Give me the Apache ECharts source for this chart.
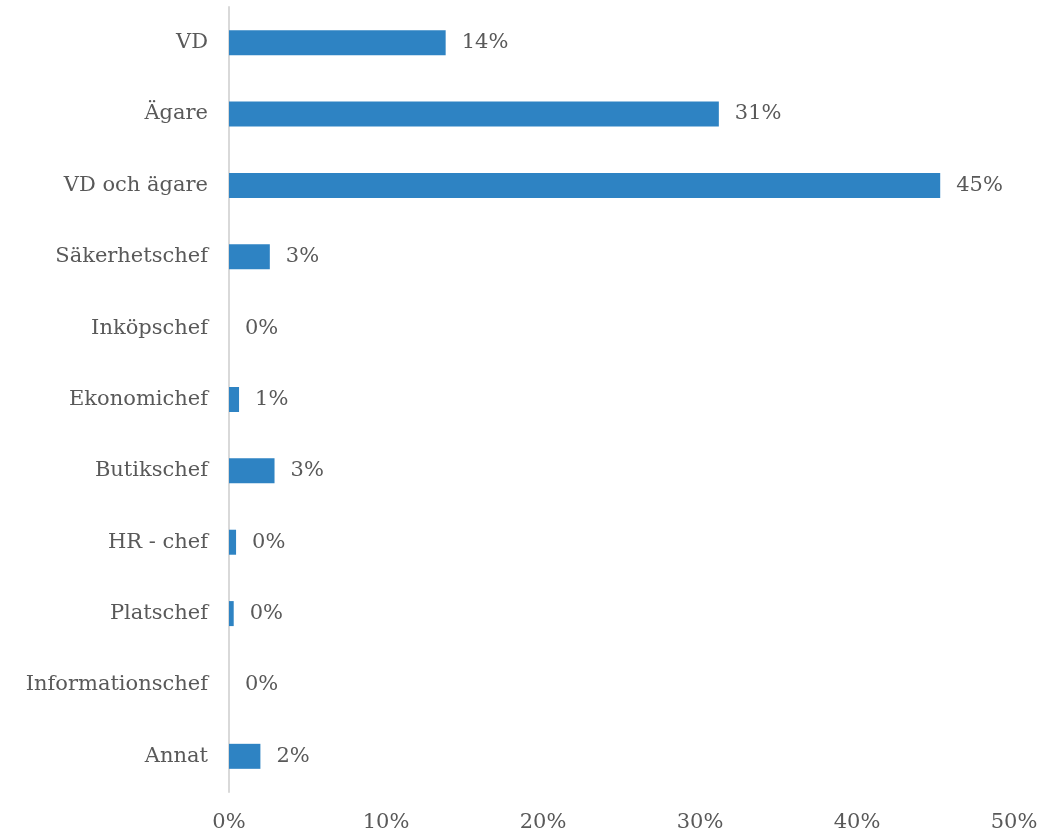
<!DOCTYPE html>
<html>
<head>
<meta charset="utf-8">
<script src="https://cdn.jsdelivr.net/npm/echarts@6/dist/echarts.min.js"></script>
<style>
  html, body { margin: 0; padding: 0; background: #fff; }
  #main { width: 1054px; height: 835px; }
</style>
</head>
<body>
<div id="main"></div>
<script>
// roller och andel (%)
var roles = ['VD', 'Ägare', 'VD och ägare', 'Säkerhetschef', 'Inköpschef', 'Ekonomichef',
    'Butikschef', 'HR - chef', 'Platschef', 'Informationschef', 'Annat'];
var shares = [13.8, 31.2, 45.3, 2.6, 0, 0.64, 2.9, 0.45, 0.3, 0, 2.0];
var xTicks = [0, 10, 20, 30, 40, 50];

var textColor = '#595959';
var fontFam = '"DejaVu Serif", serif';

var myChart = echarts.init(document.getElementById('main'));

var option = {
    animation: false,
    grid: {
        left: 229,
        right: 40,
        top: 7,
        bottom: 43
    },
    xAxis: {
        type: 'value',
        min: xTicks[0],
        max: xTicks[xTicks.length - 1],
        interval: xTicks[1] - xTicks[0],
        axisLine: { show: false },
        axisTick: { show: false },
        splitLine: { show: false },
        axisLabel: {
            margin: 20,
            color: textColor,
            fontFamily: fontFam,
            fontSize: 21,
            formatter: '{value}%'
        }
    },
    yAxis: {
        type: 'category',
        inverse: true,
        data: roles,
        axisLine: { lineStyle: { color: '#d9d9d9', width: 2 } },
        axisTick: { show: false },
        axisLabel: {
            margin: 21,
            color: textColor,
            fontFamily: fontFam,
            fontSize: 21
        }
    },
    series: [{
        type: 'bar',
        data: shares,
        barWidth: 25,
        itemStyle: {
            color: '#2e83c3'
        },
        label: {
            show: true,
            position: 'right',
            distance: 16,
            color: textColor,
            fontFamily: fontFam,
            fontSize: 21,
            formatter: function (p) {
                return Math.round(p.value) + '%';
            }
        }
    }]
};

myChart.setOption(option, true);
</script>
</body>
</html>
